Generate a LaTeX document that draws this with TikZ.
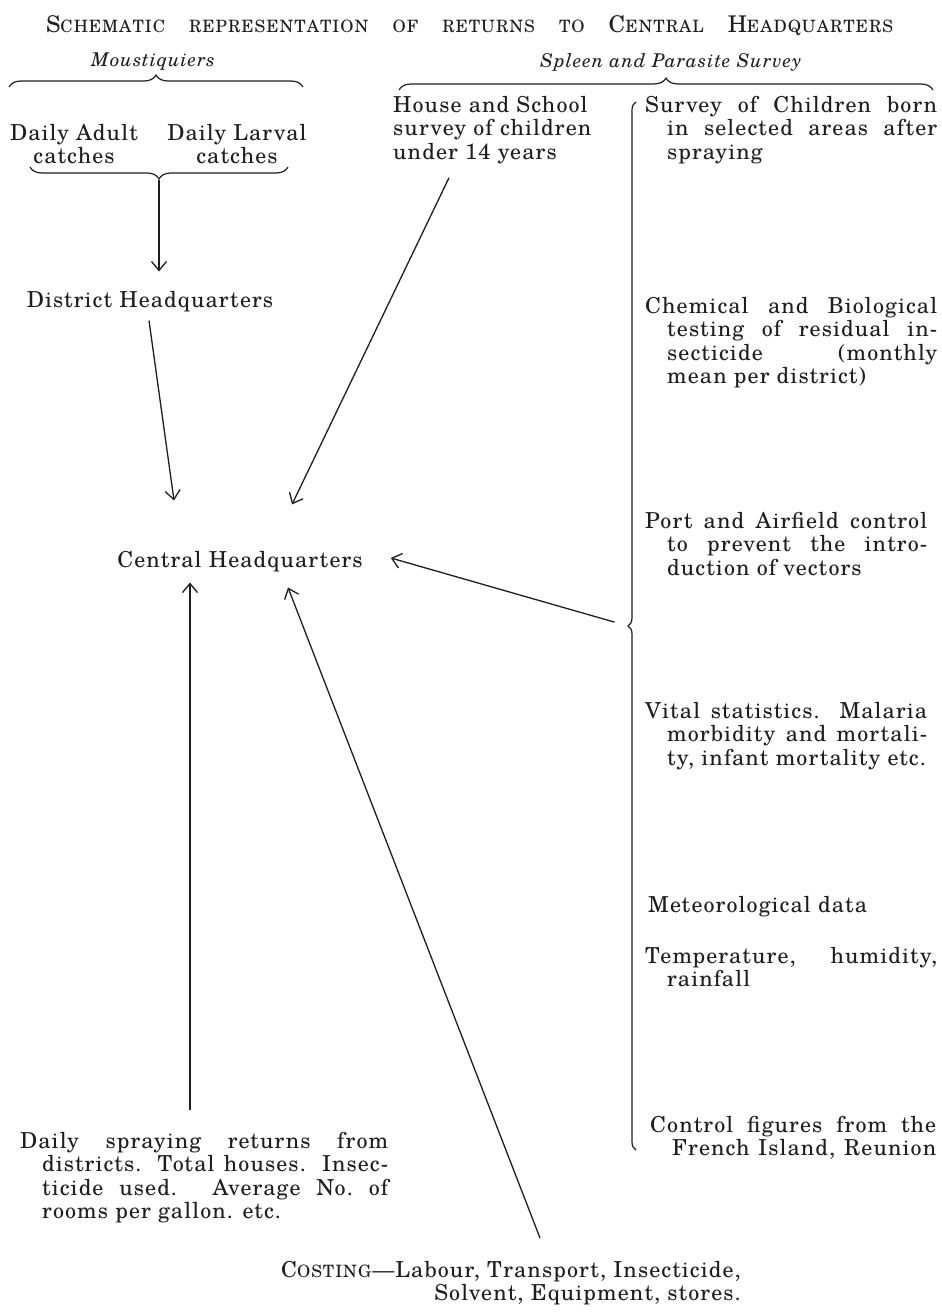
\documentclass[tikz,border=0pt]{standalone}
\usepackage{fontspec}
\setmainfont{texgyreschola}[Extension=.otf, UprightFont=*-regular, ItalicFont=*-italic, BoldFont=*-bold, BoldItalicFont=*-bolditalic, LetterSpace=5]
\usetikzlibrary{arrows.meta,decorations.pathreplacing,calc}
\definecolor{ink}{HTML}{1E1E1E}
\newcommand\tsp[1]{\tsploop#1\relax}
\def\tsploop#1{\ifx\relax#1\else#1\kern1pt\expandafter\tsploop\fi}
\newcommand\bigc[1]{{\fontsize{23}{23}\selectfont#1}}
\newcommand\smc[1]{{\fontsize{17}{17}\selectfont\tsp{#1}}}
\newcommand\hang{\hangindent=22pt\hangafter=1\tolerance=9999\hyphenpenalty=10000\relax}
\tikzset{
 base/.style={inner sep=0pt, font=\fontsize{22}{23.3}\selectfont, text=ink},
 para/.style={base, anchor=north west, align=justify, text width=#1},
 head/.style={inner sep=0pt, font=\fontsize{19}{19}\selectfont\itshape, text=ink},
 conn/.style={line width=1.3pt, draw=ink},
 arr/.style={conn, -{Straight Barb[length=9pt,width=15pt]}},
 brc/.style={line width=1.2pt, draw=ink, decorate, decoration={brace, amplitude=#1}},
}
\begin{document}
\begin{tikzpicture}[x=1pt,y=-1pt]
\fill[white] (0,0) rectangle (942,1315);
\useasboundingbox (0,0) rectangle (942,1315);

% title
\node[inner sep=0pt, text=ink] (title) at (470,26) {\makebox[848pt][s]{\bigc{S}\smc{CHEMATIC} \smc{REPRESENTATION} \smc{OF} \smc{RETURNS} \smc{TO} \bigc{C}\smc{ENTRAL} \bigc{H}\smc{EADQUARTERS}}};

% headings and braces
\node[head] (mous) at (153,62) {Moustiquiers};
\node[head] (spleen) at (671,62) {Spleen and Parasite Survey};
\draw[brc=12pt, decoration={aspect=0.5}] (9,87) -- (303,87);
\draw[brc=12pt, decoration={aspect=0.5}] (399,90) -- (933,90);

% left group
\node[base, align=center] (adult) at (74,144) {Daily Adult\\catches};
\node[base, align=center] (larval) at (237,144) {Daily Larval\\catches};
\draw[brc=12pt] (288,167) -- (30,167);
\coordinate (catchtip) at (159,180);
\node[base] (dhq) at (150,302) {District Headquarters};
\node[base] (chq) at (240,562) {Central Headquarters};

\node[base, align=left, anchor=north west] (house) at (393,96) {House and School\\survey of children\\under 14 years};

% right column
\node[para=292] (surv) at (645,96) {\hang Survey of Children born\linebreak in selected areas after\linebreak spraying\par};
\node[para=292] (chem) at (645,297) {\hang Chemical and Biological\linebreak testing of residual in-\linebreak secticide (monthly\linebreak mean per district)\par};
\node[para=282] (port) at (645,512) {\hang Port and Airfield control\linebreak to prevent the intro-\linebreak duction of vectors\par};
\node[para=282] (vital) at (645,702) {\hang Vital statistics. Malaria\linebreak morbidity and mortali-\linebreak ty, infant mortality etc.\par};
\node[base, anchor=north west] (meteo) at (648,896) {Meteorological data};
\node[para=292] (temp) at (645,947) {\hang Temperature, humidity,\linebreak rainfall\par};
\node[para=286] (control) at (650,1116) {\hang\parfillskip=0pt Control figures from the\linebreak French Island, Reunion\par};
\draw[brc=8pt, decoration={aspect=0.5}] (636,1150) -- (636,102);
\coordinate (survtip) at (628,626);

% bottom
\node[para=368] (spray) at (20,1132) {\hang Daily spraying returns from\linebreak districts. Total houses. Insec-\linebreak ticide used. Average No.\ of\linebreak rooms per gallon. etc.\par};
\node[base, align=right, anchor=north east] (cost) at (741,1261) {C\smc{OSTING}\textemdash Labour, Transport, Insecticide,\\Solvent, Equipment, stores.};

% connectors
\draw[arr] (catchtip) -- ($(catchtip |- dhq.north)+(0,-20)$);
\draw[arr] ($(dhq.south)+(-1,8)$) -- ($(chq.north)+(-66,-51)$);
\draw[arr] ($(house.south west)+(56,14)$) -- ($(chq.north)+(52,-47)$);
\draw[arr, shorten <=14pt] (survtip) -- ($(chq.east)+(28,-4)$);
\draw[arr] ($(spray.north west)+(170,-22)$) -- ($(chq.south)+(-50,10)$);
\draw[arr] ($(cost.north east)+(-201,-23)$) -- ($(chq.south)+(48,15)$);
\end{tikzpicture}
\end{document}
